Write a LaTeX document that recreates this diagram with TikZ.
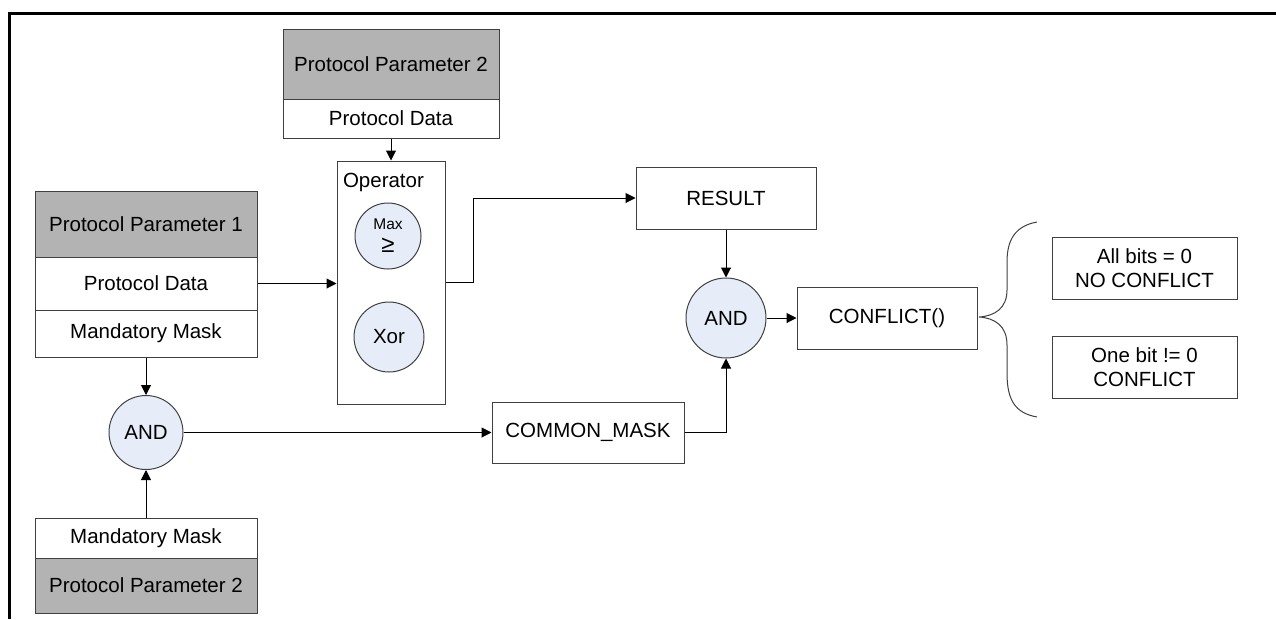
\documentclass[tikz,border=0pt]{standalone}
\usepackage{fontspec}
\setmainfont{Liberation Sans}
\usetikzlibrary{arrows.meta}
\definecolor{headgray}{RGB}{179,179,179}
\definecolor{edgegray}{RGB}{64,64,64}
\definecolor{opblue}{RGB}{230,237,248}

\begin{document}
\begin{tikzpicture}[x=1pt,y=-1pt,line width=1pt,
		field/.style={draw=edgegray, fill=white, inner sep=0pt, minimum width=222pt, font=\fontsize{20.5}{24}\selectfont},
		headfield/.style={field, fill=headgray},
		outbox/.style={field, minimum width=180pt, minimum height=62pt, align=center},
		opcircle/.style={circle, draw=edgegray, fill=opblue, inner sep=0pt, align=center, font=\fontsize{20.5}{24}\selectfont},
		flow/.style={-{Triangle[length=10pt,width=10pt]}}]
		\useasboundingbox (0,0) rectangle (1276,619);
		\draw[line width=3pt] (1276,13) -- (9,13) -- (9,619);

		% protocol parameter 2 and the operator
		\node[headfield, minimum width=216pt, minimum height=70pt] (pptwo) at (391,64) {Protocol Parameter 2};
		\node[field, minimum width=216pt, minimum height=39pt] (pptwodata) at (391,118.5) {Protocol Data};
		\node[field, minimum width=108pt, minimum height=243pt,
		label={[anchor=north west, inner sep=0pt, font=\fontsize{20.5}{24}\selectfont] north west:{\hspace{6pt}\raisebox{0pt}[26pt]{Operator}}}] (oper) at (391,282.5) {};
		\node[opcircle, minimum size=66pt] (opmax) at (388,236) {{\fontsize{15.5}{17}\selectfont Max}\\[-1pt]{\fontsize{24}{24}\selectfont ≥}};
		\node[opcircle, minimum size=70pt] (opxor) at (389,337) {Xor};

		% protocol parameter 1
		\node[headfield, minimum height=66pt] (ppone) at (146,224) {Protocol Parameter 1};
		\node[field, minimum height=53pt] (ponedata) at (146,283.5) {Protocol Data};
		\node[field, minimum height=47pt] (ponemask) at (146,333.5) {Mandatory Mask};
		\node[opcircle, minimum size=74pt] (andleft) at (146,432.5) {AND};
		\node[field, minimum height=40pt] (ptwomask) at (146,538) {Mandatory Mask};
		\node[headfield, minimum height=55pt] (ptwohead) at (146,585.5) {Protocol Parameter 2};

		% result side
		\node[outbox] (result) at (726,198) {RESULT};
		\node[opcircle, minimum size=80pt] (andright) at (726,318) {AND};
		\node[outbox, minimum width=192pt, minimum height=61pt] (commonmask) at (588,432.5) {COMMON\_MASK};
		\node[outbox] (conflict) at (887,318) {CONFLICT()};
		\node[outbox, minimum width=185pt] (noconf) at (1144.5,268) {All bits = 0\\NO CONFLICT};
		\node[outbox, minimum width=185pt] (yesconf) at (1144.5,367) {One bit != 0\\CONFLICT};

		\draw[flow] (pptwodata.south) -- (oper.north);
		\draw[flow] (ponedata.east) -- (oper.west |- ponedata.east);
		\draw[flow] (oper.east) -- ++(28,0) |- (result.west);
		\draw[flow] (result.south) -- (andright.north);
		\draw[flow] (commonmask.east) -| (andright.south);
		\draw[flow] (andright.east) -- (conflict.west);
		\draw[flow] (ponemask.south) -- (andleft.north);
		\draw[flow] (ptwomask.north) -- (andleft.south);
		\draw[flow] (andleft.east) -- (commonmask.west);

		% brace
		\coordinate (bracetip) at (979,317);
		\draw[edgegray] (1037,222) .. controls (1015,226) and (1007,240) .. (1007,262)
		-- (1007,290) .. controls (1007,308) and (995,316) .. (bracetip)
		.. controls (995,318) and (1007,326) .. (1007,345)
		-- (1007,373) .. controls (1007,400) and (1015,413) .. (1037,417);
\end{tikzpicture}
\end{document}
